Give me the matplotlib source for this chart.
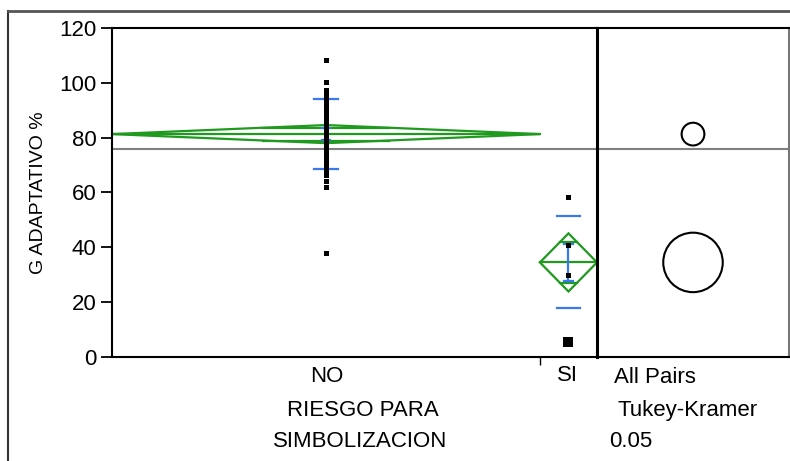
import numpy as np
import matplotlib
matplotlib.use('Agg')
from matplotlib import pyplot as plt
from matplotlib.patches import Polygon, Circle
from matplotlib.lines import Line2D

plt.rcParams['font.family'] = ['Liberation Sans', 'DejaVu Sans']

# data
groups = ['NO', 'SI']
counts = [30, 4]
no_values = [108.3, 100.3, 97.4, 96.3, 94.5, 92.6, 90.8, 89.0,
             88, 87, 86, 85, 84, 83, 82, 81, 80, 79, 78, 77, 76,
             74.4, 73.0, 71.8, 70.0, 68.2, 66.4, 64.2, 62.0, 37.9]
si_values = [58.2, 40.8, 29.9]
si_big_value = [5.6]
means = [81.3, 34.5]
std_devs = [12.75, 16.75]
std_errs = [2.2, 6.7]
ci_half = [3.3, 10.6]
circle_radius = [4.15, 10.85]
grand_mean = 75.9
y_ticks = [0, 20, 40, 60, 80, 100, 120]

green = '#1f9a1f'
blue = '#3b78ee'

W, H = 790, 461
fig = plt.figure(figsize=(W / 100, H / 100), dpi=100)

def fx(px):
    return px / W

def fy(py):
    return 1 - py / H

left, top, bottom, div, pr = 112, 28, 357, 597, 789
ax2 = fig.add_axes([fx(div), fy(bottom), fx(pr) - fx(div), fy(top) - fy(bottom)])
ax = fig.add_axes([fx(left), fy(bottom), fx(div) - fx(left), fy(top) - fy(bottom)])
ax.patch.set_visible(False)

ntot = sum(counts)
edges = np.concatenate([[0], np.cumsum(counts)]) / ntot
centers = (edges[:-1] + edges[1:]) / 2

# grand mean line
ax.axhline(grand_mean, color='#808080', lw=1.5, zorder=1)
ax2.axhline(grand_mean, color='#808080', lw=1.5, zorder=1)

for i in range(len(groups)):
    x0, x1, xc = edges[i], edges[i + 1], centers[i]
    m, c = means[i], ci_half[i]
    dia = Polygon([[x0, m], [xc, m + c], [x1, m], [xc, m - c]], closed=True,
                  fill=False, edgecolor=green, lw=1.6, zorder=2)
    ax.add_patch(dia)
    ax.plot([x0, x1], [m, m], color=green, lw=1.6, zorder=2)
    # overlap marks
    k = 1 - 1 / np.sqrt(2)
    hw = (x1 - x0) / 2 * k
    for s in (1, -1):
        ax.plot([xc - hw, xc + hw], [m + s * c / np.sqrt(2)] * 2, color=green, lw=1.6, zorder=2)
    # std dev lines
    for s in (1, -1):
        ax.plot([xc - 0.024, xc + 0.024], [m + s * std_devs[i]] * 2, color=blue, lw=1.6, zorder=3)
    # mean error bars
    se = std_errs[i]
    ax.plot([xc, xc], [m - se, m + se], color=blue, lw=1.6, zorder=3)
    for s in (1, -1):
        ax.plot([xc - 0.009, xc + 0.009], [m + s * se] * 2, color=blue, lw=1.6, zorder=3)

ax.plot([centers[0]] * len(no_values), no_values, 's', color='black', ms=3.6, mew=0, zorder=4)
ax.plot([centers[1]] * len(si_values), si_values, 's', color='black', ms=3.6, mew=0, zorder=4)
ax.plot([centers[1]] * len(si_big_value), si_big_value, 's', color='black', ms=6.5, mew=0, zorder=4)

ax.set_xlim(0, 1)
ax.set_ylim(0, 120)
ax.set_yticks(y_ticks)
ax.set_yticklabels([str(t) for t in y_ticks], fontsize=16)
ax.tick_params(axis='y', direction='out', length=8, width=1.3, pad=3)
ax.set_xticks([edges[1]])
ax.set_xticklabels([''])
ax.tick_params(axis='x', direction='out', length=6, width=1.0)
for sp in ax.spines.values():
    sp.set_linewidth(1.5)
ax.spines['right'].set_linewidth(2.2)
ax.set_ylabel('G ADAPTATIVO %', fontsize=14, labelpad=9)

# comparison circles
cw = 120 * (pr - div) / (bottom - top)
ax2.set_xlim(0, cw)
ax2.set_ylim(0, 120)
for i in range(len(groups)):
    ax2.add_patch(Circle((cw / 2, means[i]), circle_radius[i], fill=False,
                         edgecolor='black', lw=1.5, zorder=3))
ax2.set_xticks([])
ax2.set_yticks([])
for sp in ax2.spines.values():
    sp.set_linewidth(1.5)
ax2.spines['left'].set_visible(False)
ax2.spines['right'].set_color('#777777')

# text below
fs = 16
fig.text(fx(327), fy(376), groups[0], fontsize=fs, ha='center', va='center')
fig.text(fx(567), fy(375), groups[1], fontsize=fs, ha='center', va='center')
fig.text(fx(363), fy(410), 'RIESGO PARA', fontsize=fs, ha='center', va='center')
fig.text(fx(360), fy(441), 'SIMBOLIZACION', fontsize=fs, ha='center', va='center')
fig.text(fx(614), fy(377), 'All Pairs', fontsize=fs, ha='left', va='center')
fig.text(fx(617), fy(410), 'Tukey-Kramer', fontsize=fs, ha='left', va='center')
fig.text(fx(609), fy(441), '0.05', fontsize=fs, ha='left', va='center')

# outer frame
fig.add_artist(Line2D([fx(8), fx(8)], [0, fy(11)], color='#333333', lw=1.5))
fig.add_artist(Line2D([fx(8), 1], [fy(11), fy(11)], color='#555555', lw=2))

fig.savefig('out.png', dpi=100)
